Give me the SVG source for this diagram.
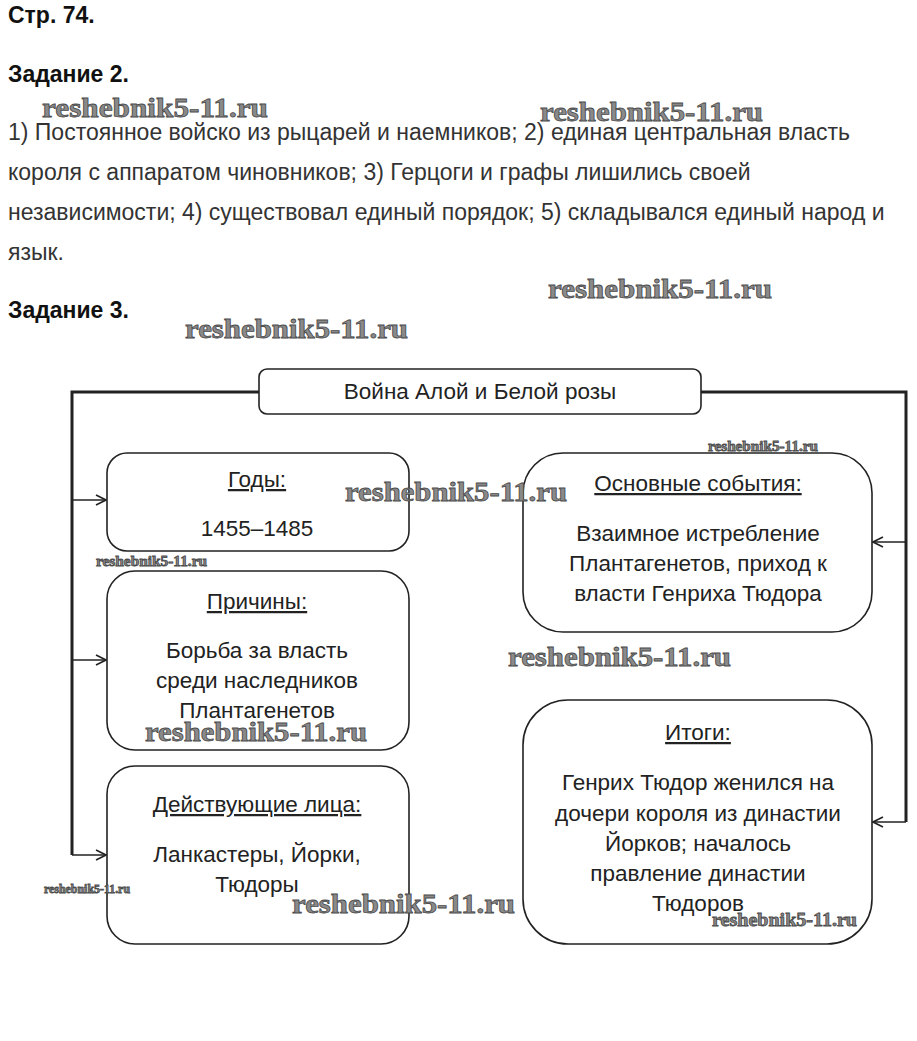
<svg xmlns="http://www.w3.org/2000/svg" width="917" height="1041" viewBox="0 0 917 1041">
<style>
.h{font-family:"Liberation Sans",Arial,sans-serif;font-weight:bold;font-size:23px;fill:#111}
.p{font-family:"Liberation Sans",Arial,sans-serif;font-size:23px;fill:#333}
.t{font-family:"Liberation Sans",Arial,sans-serif;font-size:22.5px;fill:#222;text-anchor:middle}
.u{text-decoration:underline}
.box{fill:#fff;stroke:#222;stroke-width:1.6}
.ln{fill:none;stroke:#222;stroke-width:3}
.ar{fill:none;stroke:#222;stroke-width:1.6}
.wm{font-family:"Liberation Serif","Times New Roman",serif;font-weight:bold;fill:#8a8a8a;stroke:#4a4a4a;stroke-width:0.8}
</style>
<defs>
<marker id="arr" viewBox="0 0 12 12" refX="11" refY="6" markerWidth="12" markerHeight="12" markerUnits="userSpaceOnUse" orient="auto">
<path d="M1,1 L11,6 L1,11" fill="none" stroke="#222" stroke-width="1.6"/>
</marker>
</defs>
<rect width="917" height="1041" fill="#fff"/>
<text class="h" x="8" y="23">Стр. 74.</text>
<text class="h" x="8" y="82">Задание 2.</text>
<text class="p" x="8" y="140">1) Постоянное войско из рыцарей и наемников; 2) единая центральная власть</text>
<text class="p" x="8" y="180">короля с аппаратом чиновников; 3) Герцоги и графы лишились своей</text>
<text class="p" x="8" y="220">независимости; 4) существовал единый порядок; 5) складывался единый народ и</text>
<text class="p" x="8" y="260">язык.</text>
<text class="h" x="8" y="318">Задание 3.</text>
<g id="connectors">
<path class="ln" d="M259,392 H72 V855"/>
<path class="ln" d="M701,392 H906 V822"/>
<line class="ar" x1="72" y1="500" x2="106" y2="500" marker-end="url(#arr)"/>
<line class="ar" x1="72" y1="660" x2="106" y2="660" marker-end="url(#arr)"/>
<line class="ar" x1="72" y1="855" x2="106" y2="855" marker-end="url(#arr)"/>
<line class="ar" x1="906" y1="542" x2="873" y2="542" marker-end="url(#arr)"/>
<line class="ar" x1="906" y1="822" x2="873" y2="822" marker-end="url(#arr)"/>
</g>
<g id="title">
<rect class="box" x="259" y="369" width="442" height="45" rx="8"/>
<text class="t" x="480" y="399">Война Алой и Белой розы</text>
</g>
<g id="years">
<rect class="box" x="107" y="453" width="302" height="98" rx="20"/>
<text class="t u" x="257" y="487">Годы:</text>
<text class="t" x="257" y="536">1455–1485</text>
</g>
<g id="causes">
<rect class="box" x="107" y="571" width="302" height="179" rx="28"/>
<text class="t u" x="257" y="609">Причины:</text>
<text class="t" x="257" y="658">Борьба за власть</text>
<text class="t" x="257" y="688">среди наследников</text>
<text class="t" x="257" y="718">Плантагенетов</text>
</g>
<g id="actors">
<rect class="box" x="107" y="766" width="302" height="178" rx="28"/>
<text class="t u" x="257" y="812">Действующие лица:</text>
<text class="t" x="257" y="862">Ланкастеры, Йорки,</text>
<text class="t" x="257" y="892">Тюдоры</text>
</g>
<g id="events">
<rect class="box" x="523" y="453" width="349" height="179" rx="40"/>
<text class="t u" x="698" y="491">Основные события:</text>
<text class="t" x="698" y="541">Взаимное истребление</text>
<text class="t" x="698" y="571">Плантагенетов, приход к</text>
<text class="t" x="698" y="601">власти Генриха Тюдора</text>
</g>
<g id="results">
<rect class="box" x="523" y="700" width="349" height="244" rx="45"/>
<text class="t u" x="698" y="740">Итоги:</text>
<text class="t" x="698" y="790">Генрих Тюдор женился на</text>
<text class="t" x="698" y="821">дочери короля из династии</text>
<text class="t" x="698" y="851">Йорков; началось</text>
<text class="t" x="698" y="881">правление династии</text>
<text class="t" x="698" y="911">Тюдоров</text>
</g>
<g id="watermarks">
<text class="wm" x="42" y="117" font-size="28" textLength="226" lengthAdjust="spacingAndGlyphs">reshebnik5-11.ru</text>
<text class="wm" x="540" y="121" font-size="28" textLength="223" lengthAdjust="spacingAndGlyphs">reshebnik5-11.ru</text>
<text class="wm" x="548" y="298" font-size="28" textLength="224" lengthAdjust="spacingAndGlyphs">reshebnik5-11.ru</text>
<text class="wm" x="185" y="338" font-size="28" textLength="223" lengthAdjust="spacingAndGlyphs">reshebnik5-11.ru</text>
<text class="wm" x="708" y="451" font-size="14" stroke-width="0.4" textLength="110" lengthAdjust="spacingAndGlyphs">reshebnik5-11.ru</text>
<text class="wm" x="345" y="501" font-size="28" textLength="222" lengthAdjust="spacingAndGlyphs">reshebnik5-11.ru</text>
<text class="wm" x="96" y="566" font-size="14" stroke-width="0.4" textLength="111" lengthAdjust="spacingAndGlyphs">reshebnik5-11.ru</text>
<text class="wm" x="508" y="666" font-size="28" textLength="223" lengthAdjust="spacingAndGlyphs">reshebnik5-11.ru</text>
<text class="wm" x="145" y="741" font-size="28" textLength="222" lengthAdjust="spacingAndGlyphs">reshebnik5-11.ru</text>
<text class="wm" x="44" y="893" font-size="12" stroke-width="0.4" textLength="86" lengthAdjust="spacingAndGlyphs">reshebnik5-11.ru</text>
<text class="wm" x="292" y="913" font-size="28" textLength="223" lengthAdjust="spacingAndGlyphs">reshebnik5-11.ru</text>
<text class="wm" x="712" y="926" font-size="18" stroke-width="0.5" textLength="145" lengthAdjust="spacingAndGlyphs">reshebnik5-11.ru</text>
</g>
</svg>
